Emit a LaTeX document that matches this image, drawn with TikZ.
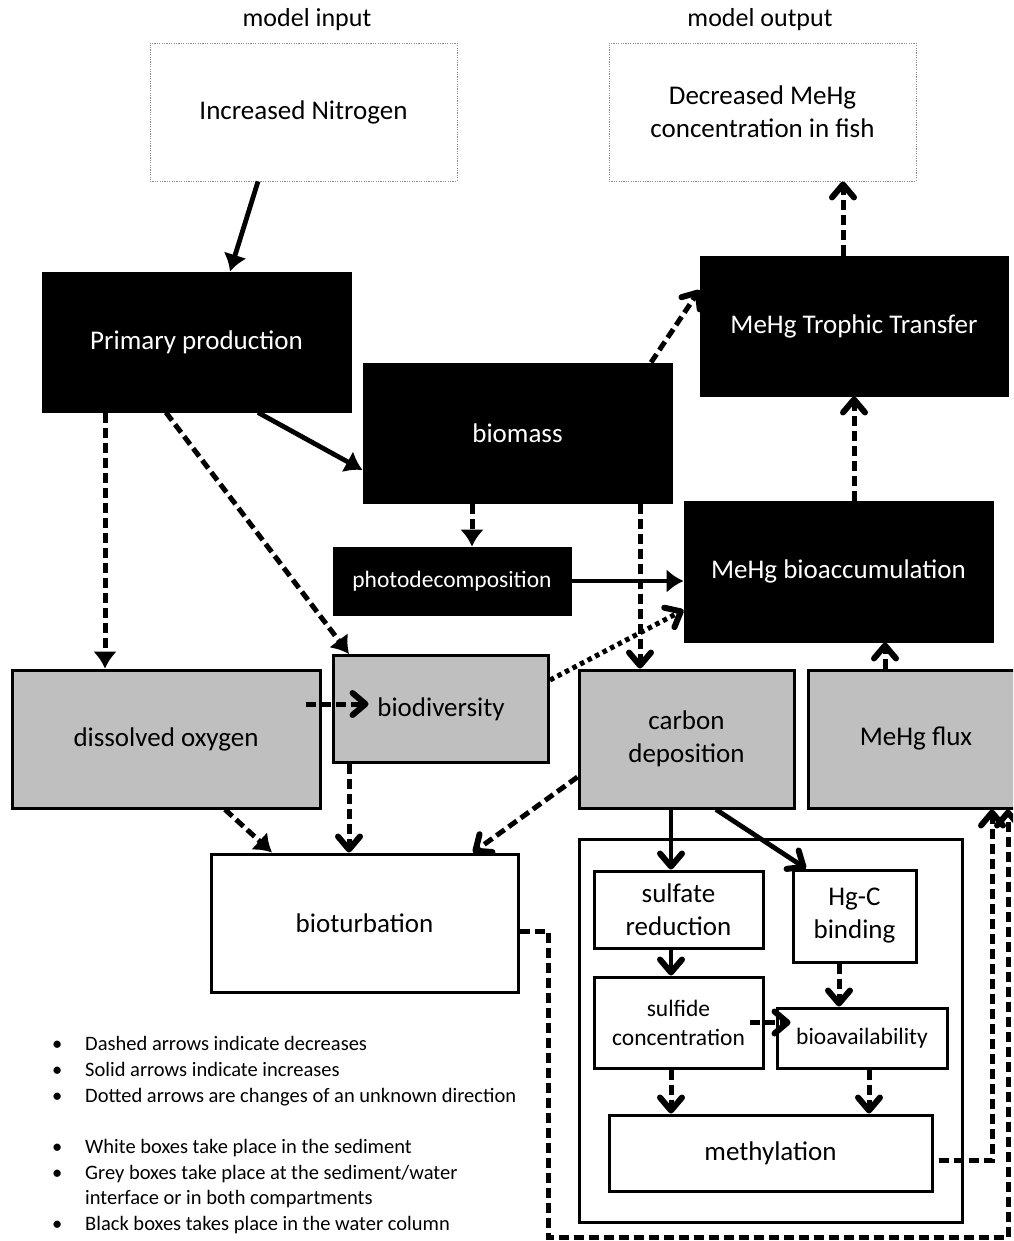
\documentclass[tikz,border=0pt]{standalone}
\usepackage{fontspec}
\setmainfont{Carlito}
\usetikzlibrary{arrows.meta,calc}
\begin{document}
\begin{tikzpicture}[x=1pt,y=-1pt,
  lbl/.style={font=\fontsize{27}{33}\selectfont},
  smlbl/.style={font=\fontsize{23.5}{29}\selectfont},
  blackbox/.style={draw=black,fill=black,text=white,line width=1pt,inner sep=0pt,align=center,lbl},
  greybox/.style={draw=black,fill=black!25,line width=3pt,inner sep=0pt,align=center,lbl},
  whitebox/.style={draw=black,fill=white,line width=3pt,inner sep=0pt,align=center,lbl},
  dotbox/.style={draw=black!45,line width=0.9pt,dash pattern=on 1.2pt off 1.2pt,inner sep=0pt,align=center,lbl},
  conn/.style={line width=4.8pt},
  dashc/.style={line width=5pt,dash pattern=on 10pt off 5pt},
  dotc/.style={line width=5pt,dash pattern=on 4.5pt off 4pt},
  tri/.style={-{Latex[length=17pt,width=24pt]}},
  vee/.style={-{Straight Barb[length=13pt,width=22pt,line width=6pt,round]}},
  leg/.style={anchor=base west,inner sep=0pt,font=\fontsize{20.5}{24}\selectfont}
]
\fill[white] (0,0) rectangle (1013,1241);
\clip (0,0) rectangle (1013,1241);

% headings
\node[font=\fontsize{26}{30}\selectfont] (hin) at (307,20) {model input};
\node[font=\fontsize{26}{30}\selectfont] (hout) at (760,20) {model output};

% boxes
\node[dotbox,minimum width=307,minimum height=138] (nin) at (303.5,112) {Increased Nitrogen};
\node[dotbox,minimum width=307,minimum height=138] (nout) at (762.5,112) {Decreased MeHg\\concentration in fish};
\node[blackbox,minimum width=309,minimum height=140] (pp) at (196.5,342) {Primary production};
\node[blackbox,minimum width=309,minimum height=140] (bm) at (517.5,433) {biomass};
\node[blackbox,minimum width=308,minimum height=140] (tt) at (854,326) {MeHg Trophic Transfer};
\node[blackbox,minimum width=309,minimum height=141] (ba) at (838.5,571.5) {MeHg bioaccumulation};
\node[blackbox,minimum width=238,minimum height=68,smlbl] (ph) at (452,581) {photodecomposition};
\node[greybox,minimum width=308,minimum height=138] (dox) at (166,739) {dissolved oxygen};
\node[greybox,minimum width=215,minimum height=107] (bd) at (441,709) {biodiversity};
\node[greybox,minimum width=215,minimum height=138] (cd) at (686.5,739) {carbon\\deposition};
\node[greybox,minimum width=216,minimum height=138] (fx) at (916,739) {MeHg flux};
\node[whitebox,minimum width=307,minimum height=138] (bt) at (364.5,923) {bioturbation};
\node[whitebox,minimum width=383,minimum height=383] (cont) at (770.5,1030.5) {};
\node[whitebox,minimum width=169,minimum height=77] (sr) at (678.5,909.5) {sulfate\\reduction};
\node[whitebox,minimum width=123,minimum height=92] (hg) at (854.5,916) {Hg-C\\binding};
\node[whitebox,minimum width=169,minimum height=91,smlbl] (sc) at (678.5,1022.5) {sulfide\\concentration};
\node[whitebox,minimum width=170,minimum height=60,smlbl] (bv) at (862,1038) {bioavailability};
\node[whitebox,minimum width=323,minimum height=76] (me) at (770.5,1153) {methylation};

% connectors
\draw[conn,tri] ([xshift=-45.5pt]nin.south) -- ([xshift=33.5pt]pp.north);
\draw[conn,tri] ([xshift=61.5pt]pp.south) -- ([yshift=-37pt]bm.west);
\draw[dashc,tri] ([xshift=-91.5pt]pp.south) -- ([xshift=-61pt]dox.north);
\draw[dashc,tri] ([xshift=-30.5pt]pp.south) -- ([xshift=-92pt]bd.north);
\draw[dashc,tri] ([xshift=-45.5pt]bm.south) -- ([xshift=20pt]ph.north);
\draw[dashc,vee] ([xshift=122.5pt]bm.south) -- ([xshift=-46.5pt]cd.north);
\draw[dashc,vee] ([xshift=133.5pt]bm.north) -- ([yshift=36pt]tt.west);
\draw[conn,tri] (ph.east) -- (ph.east -| ba.west);
\draw[dotc,vee] ([yshift=29pt]bd.east) -- ([yshift=-38.5pt]ba.west);
\draw[dashc,vee] (ba.north -| tt.south) -- (tt.south);
\draw[dashc,vee] ([xshift=-11pt]tt.north) -- ([xshift=-11pt]tt.north |- nout.south);
\draw[dashc,vee] ([xshift=-31pt]fx.north) -- ([xshift=-31pt]fx.north |- ba.south);
\draw[dashc,vee] ([xshift=-16pt,yshift=35pt]dox.east) -- ([xshift=47pt,yshift=35pt]dox.east);
\draw[dashc,tri] ([xshift=59pt]dox.south) -- ([xshift=-92.5pt]bt.north);
\draw[dashc,vee] ([xshift=-92pt]bd.south) -- ([xshift=-92pt]bd.south |- bt.north);
\draw[dashc,vee] ([yshift=-38pt]cd.west) -- ([xshift=108.5pt]bt.north);
\draw[conn,vee] ([xshift=-15.5pt]cd.south) -- ([xshift=-15.5pt]cd.south |- sr.north);
\draw[conn,vee] ([xshift=29.5pt]cd.south) -- ([xshift=-48.5pt]hg.north);
\draw[conn,vee] ([xshift=-7.5pt]sr.south) -- ([xshift=-7.5pt]sr.south |- sc.north);
\draw[dashc,vee] ([xshift=-15.5pt]hg.south) -- ([xshift=-15.5pt]hg.south |- bv.north);
\draw[dashc,vee] ([xshift=-15pt]sc.east) -- ([xshift=15pt]sc.east -| bv.west);
\draw[dashc,vee] ([xshift=-7.5pt]sc.south) -- ([xshift=-7.5pt]sc.south |- me.north);
\draw[dashc,vee] ([xshift=7pt]bv.south) -- ([xshift=7pt]bv.south |- me.north);
\draw[dashc,vee] ([xshift=5pt,yshift=-7pt]me.east) -| ([xshift=76pt]fx.south);
\coordinate (lp) at (548,1237);
\draw[dashc,vee] ([yshift=-8pt]bt.east) -| (lp) -| ([xshift=92pt]fx.south);

% legend
\foreach \yy/\txt [count=\i] in {1050/{Dashed arrows indicate decreases},
  1076/{Solid arrows indicate increases},
  1102/{Dotted arrows are changes of an unknown direction},
  1153/{White boxes take place in the sediment},
  1179/{Grey boxes take place at the sediment/water},
  1230/{Black boxes takes place in the water column}}{
  \node[leg] (legb\i) at (52,\yy) {\textbullet};
  \node[leg] (legt\i) at (85,\yy) {\txt};
}
\node[leg] (legt7) at (85,1204) {interface or in both compartments};
\end{tikzpicture}
\end{document}
